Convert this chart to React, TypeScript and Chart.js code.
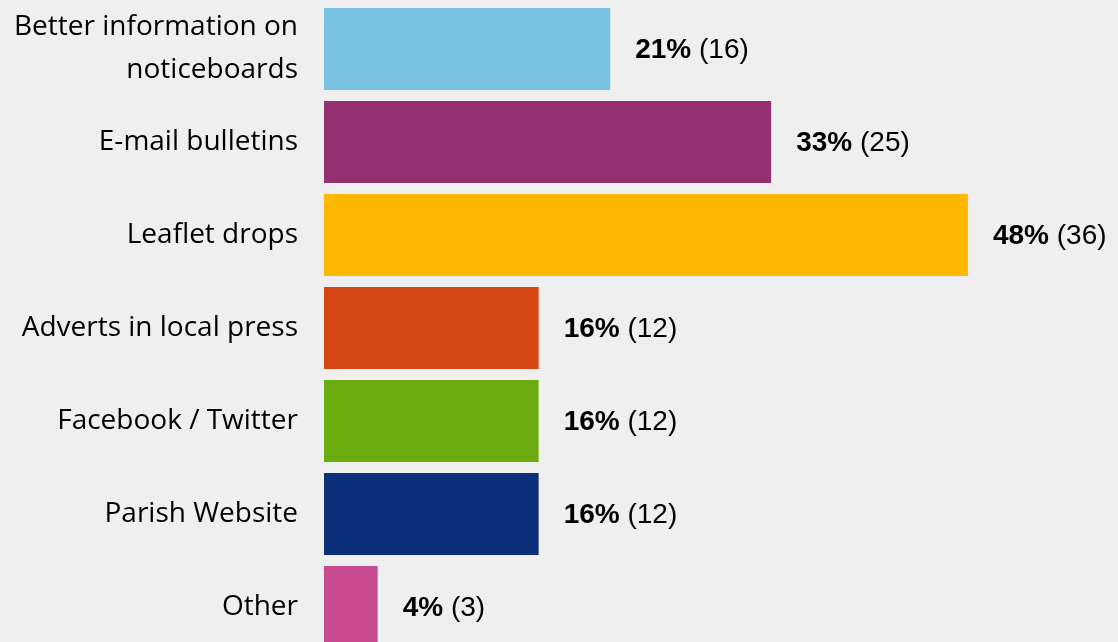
import React, { useEffect, useRef } from "react";
import { Chart, registerables } from "chart.js";

Chart.register(...registerables);

const categories: string[][] = [
  ["Better information on", "noticeboards"],
  ["E-mail bulletins"],
  ["Leaflet drops"],
  ["Adverts in local press"],
  ["Facebook / Twitter"],
  ["Parish Website"],
  ["Other"],
];
const counts = [16, 25, 36, 12, 12, 12, 3];
const percents = [21, 33, 48, 16, 16, 16, 4];
const barColors = ["#77c1e1", "#93306f", "#ffb800", "#d64715", "#6aac0e", "#0c2f7a", "#c94b8f"];

const labelsPlugin = {
  id: "labelsPlugin",
  afterDatasetsDraw(chart: any) {
    const ctx = chart.ctx;
    const meta = chart.getDatasetMeta(0);
    const left = chart.chartArea.left;
    ctx.save();
    ctx.textBaseline = "middle";
    ctx.fillStyle = "#000";
    meta.data.forEach((bar: any, i: number) => {
      // category label
      ctx.textAlign = "right";
      ctx.font = "28px 'Open Sans', sans-serif";
      const lines = categories[i];
      const lh = 43;
      const y0 = bar.y - ((lines.length - 1) * lh) / 2;
      lines.forEach((ln, k) => ctx.fillText(ln, left - 26, y0 + k * lh));
      // value label
      ctx.textAlign = "left";
      const x = bar.x + 25;
      const y = bar.y + 1;
      ctx.font = "bold 28px 'Liberation Sans', Arial, sans-serif";
      const p = percents[i] + "%";
      ctx.fillText(p, x, y);
      const w = ctx.measureText(p).width;
      ctx.font = "28px 'Liberation Sans', Arial, sans-serif";
      ctx.fillText(" (" + counts[i] + ")", x + w, y);
    });
    ctx.restore();
  },
};

export default function App() {
  const ref = useRef<HTMLCanvasElement>(null);
  useEffect(() => {
    document.body.style.margin = "0";
    document.body.style.overflow = "hidden";
    const chart = new Chart(ref.current!, {
      type: "bar",
      data: {
        labels: categories.map((c) => c.join(" ")),
        datasets: [
          {
            data: counts,
            backgroundColor: barColors,
            borderWidth: 0,
            barPercentage: 0.882,
            categoryPercentage: 1,
          },
        ],
      },
      options: {
        indexAxis: "y",
        animation: false,
        responsive: false,
        layout: { padding: { top: 2.5, bottom: 2.5, left: 0, right: 7 } },
        plugins: { legend: { display: false }, tooltip: { enabled: false } },
        scales: {
          x: { display: false, min: 0, max: 44 },
          y: {
            grid: { display: false, drawTicks: false },
            border: { display: false },
            ticks: { display: false },
            afterFit(scale: any) {
              scale.width = 324;
            },
          },
        },
      },
      plugins: [labelsPlugin],
    });
    return () => chart.destroy();
  }, []);
  return (
    <div style={{ position: "fixed", left: 0, top: 0, width: 1118, height: 642, overflow: "hidden", background: "#efefef" }}>
      <canvas ref={ref} width={1118} height={656} style={{ display: "block" }} />
    </div>
  );
}
